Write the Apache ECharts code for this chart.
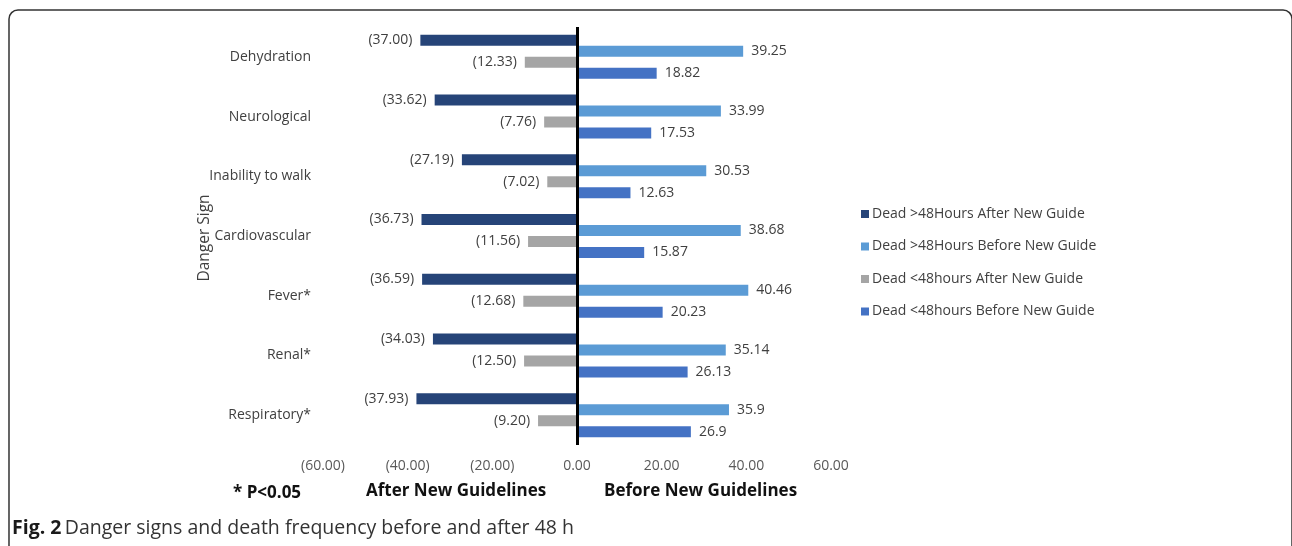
<!DOCTYPE html>
<html>
<head>
<meta charset="utf-8">
<script src="https://cdn.jsdelivr.net/npm/echarts@6/dist/echarts.min.js"></script>
<style>
html,body{margin:0;padding:0;background:#fff;}
#chart{width:1292px;height:546px;}
</style>
</head>
<body>
<div id="chart"></div>
<script>
var categories = ['Dehydration', 'Neurological', 'Inability to walk', 'Cardiovascular', 'Fever*', 'Renal*', 'Respiratory*'];
var deadGt48After = [37.00, 33.62, 27.19, 36.73, 36.59, 34.03, 37.93];
var deadGt48Before = [39.25, 33.99, 30.53, 38.68, 40.46, 35.14, 35.9];
var deadLt48After = [12.33, 7.76, 7.02, 11.56, 12.68, 12.50, 9.20];
var deadLt48Before = [18.82, 17.53, 12.63, 15.87, 20.23, 26.13, 26.9];
var xTicks = [-60, -40, -20, 0, 20, 40, 60];
var seriesNames = ['Dead >48Hours After New Guide', 'Dead >48Hours Before New Guide', 'Dead <48hours After New Guide', 'Dead <48hours Before New Guide'];
var colors = ['#264478', '#5B9BD5', '#A5A5A5', '#4472C4'];

var FONT = '"Open Sans", "Liberation Sans", sans-serif';
var chart = echarts.init(document.getElementById('chart'));

function negLabel(p) { return '(' + Math.abs(p.value).toFixed(2) + ')'; }
function posLabel(p) { return String(p.value); }
function xFmt(v) { return v < 0 ? '(' + Math.abs(v).toFixed(2) + ')' : v.toFixed(2); }

var labelBase = { show: true, fontSize: 14, color: '#404040', fontFamily: FONT, distance: 8 };

function mkSeries(i, vals, neg) {
  return {
    name: seriesNames[i],
    type: 'bar',
    barWidth: 11,
    barGap: '0%',
    itemStyle: { color: colors[i] },
    label: Object.assign({}, labelBase, { position: neg ? 'left' : 'right', formatter: neg ? negLabel : posLabel }),
    data: vals.map(function (v) { return neg ? -v : v; })
  };
}

var series = [
  mkSeries(0, deadGt48After, true),
  mkSeries(1, deadGt48Before, false),
  mkSeries(2, deadLt48After, true),
  mkSeries(3, deadLt48Before, false)
];
series[0].markLine = {
  silent: true, symbol: 'none', label: { show: false },
  lineStyle: { color: '#000', width: 3, type: 'solid' },
  data: [{ xAxis: 0 }]
};

chart.setOption({
  animation: false,
  color: colors,
  grid: { left: 323, right: 461, top: 27, bottom: 101, containLabel: false },
  legend: {
    orient: 'vertical', left: 856, top: 202, itemGap: 18.5,
    itemWidth: 8, itemHeight: 8, icon: 'rect',
    textStyle: { fontSize: 14, color: '#404040', fontFamily: FONT, padding: [0, 0, 0, -2] },
    data: seriesNames
  },
  xAxis: {
    type: 'value', min: -60, max: 60, interval: 20,
    axisLine: { show: false }, axisTick: { show: false }, splitLine: { show: false },
    axisLabel: { formatter: xFmt, fontSize: 14, color: '#595959', fontFamily: FONT, margin: 14 }
  },
  yAxis: {
    type: 'category', data: categories, inverse: true,
    axisLine: { show: false }, axisTick: { show: false },
    axisLabel: { fontSize: 14, color: '#404040', fontFamily: FONT, margin: 12 }
  },
  series: series,
  graphic: [
    { type: 'rect', shape: { x: 9, y: 10, width: 1283, height: 600, r: 9 }, style: { fill: 'none', stroke: '#333', lineWidth: 1.5 }, silent: true },
    { type: 'text', x: 205, y: 238, rotation: Math.PI / 2, style: { text: 'Danger Sign', fontSize: 15.5, fill: '#404040', fontFamily: FONT, align: 'center', verticalAlign: 'middle' } },
    { type: 'text', left: 233, top: 485, style: { text: '* P<0.05', fontSize: 17, fontWeight: 'bold', fill: '#111', fontFamily: FONT } },
    { type: 'text', left: 366, top: 483, style: { text: 'After New Guidelines', fontSize: 17, fontWeight: 'bold', fill: '#111', fontFamily: FONT } },
    { type: 'text', left: 604, top: 483, style: { text: 'Before New Guidelines', fontSize: 17, fontWeight: 'bold', fill: '#111', fontFamily: FONT } },
    { type: 'text', left: 12, top: 518, style: { rich: { b: { fontSize: 19.5, fontWeight: 'bold', fill: '#1a1a1a', fontFamily: FONT }, n: { fontSize: 19.5, fill: '#333', fontFamily: FONT } }, text: '{b|Fig. 2} {n|Danger signs and death frequency before and after 48 h}' } }
  ]
});
</script>
</body>
</html>
